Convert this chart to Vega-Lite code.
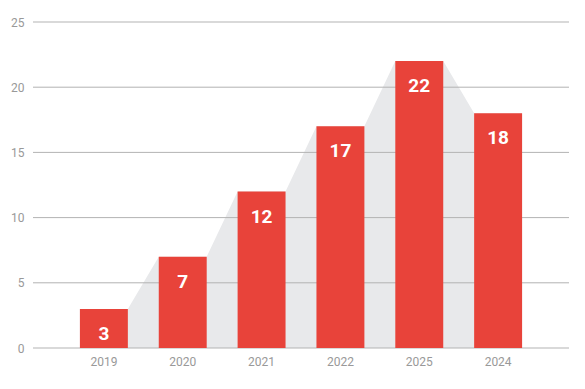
{
  "$schema": "https://vega.github.io/schema/vega-lite/v6.json",
  "width": 536,
  "height": 326,
  "autosize": "none",
  "padding": {"left": 33, "top": 22, "right": 16, "bottom": 41},
  "background": "white",
  "datasets": {
    "bars": [
      {"year": "2019", "value": 3},
      {"year": "2020", "value": 7},
      {"year": "2021", "value": 12},
      {"year": "2022", "value": 17},
      {"year": "2025", "value": 22},
      {"year": "2024", "value": 18}
    ],
    "edges": [
      {"year": "2019", "side": "L", "value": 3},
      {"year": "2019", "side": "R", "value": 3},
      {"year": "2020", "side": "L", "value": 7},
      {"year": "2020", "side": "R", "value": 7},
      {"year": "2021", "side": "L", "value": 12},
      {"year": "2021", "side": "R", "value": 12},
      {"year": "2022", "side": "L", "value": 17},
      {"year": "2022", "side": "R", "value": 17},
      {"year": "2025", "side": "L", "value": 22},
      {"year": "2025", "side": "R", "value": 22},
      {"year": "2024", "side": "L", "value": 18},
      {"year": "2024", "side": "R", "value": 18}
    ],
    "grid": [
      {"tick": 0}, {"tick": 5}, {"tick": 10}, {"tick": 15}, {"tick": 20}, {"tick": 25}
    ]
  },
  "layer": [
    {
      "data": {"name": "edges"},
      "mark": {"type": "area", "color": "#e8e9eb"},
      "encoding": {
        "x": {"field": "year", "type": "nominal", "sort": ["2019", "2020", "2021", "2022", "2025", "2024"],
              "scale": {"paddingInner": 0.392, "paddingOuter": 0.595}},
        "xOffset": {"field": "side", "type": "nominal", "scale": {"type": "point", "padding": 0}},
        "y": {"field": "value", "type": "quantitative", "scale": {"domain": [0, 25], "nice": false},
              "axis": {"values": [0, 5, 10, 15, 20, 25]}}
      }
    },
    {
      "data": {"name": "grid"},
      "mark": {"type": "rule", "color": "#b3b3b3", "strokeWidth": 1},
      "encoding": {
        "y": {"field": "tick", "type": "quantitative"}
      }
    },
    {
      "data": {"name": "bars"},
      "mark": {"type": "bar", "color": "#e8433a", "width": {"band": 1}},
      "encoding": {
        "x": {"field": "year", "type": "nominal", "sort": ["2019", "2020", "2021", "2022", "2025", "2024"]},
        "y": {"field": "value", "type": "quantitative"}
      }
    },
    {
      "data": {"name": "bars"},
      "mark": {"type": "text", "color": "white", "fontSize": 19, "fontWeight": "bold", "baseline": "alphabetic", "dy": 31},
      "encoding": {
        "x": {"field": "year", "type": "nominal", "sort": ["2019", "2020", "2021", "2022", "2025", "2024"], "bandPosition": 0.5},
        "y": {"field": "value", "type": "quantitative"},
        "text": {"field": "value", "type": "quantitative"}
      }
    }
  ],
  "resolve": {"scale": {"xOffset": "independent"}},
  "config": {
    "view": {"stroke": null},
    "font": "Roboto",
    "axisX": {"title": null, "labelAngle": 0, "labelColor": "#999999", "labelFontSize": 12, "labelPadding": 8, "domain": false, "ticks": false, "grid": false},
    "axisY": {"title": null, "labelColor": "#999999", "labelFontSize": 12, "labelPadding": 9, "domain": false, "ticks": false, "grid": false},
    "axis": {"title": null}
  }
}
